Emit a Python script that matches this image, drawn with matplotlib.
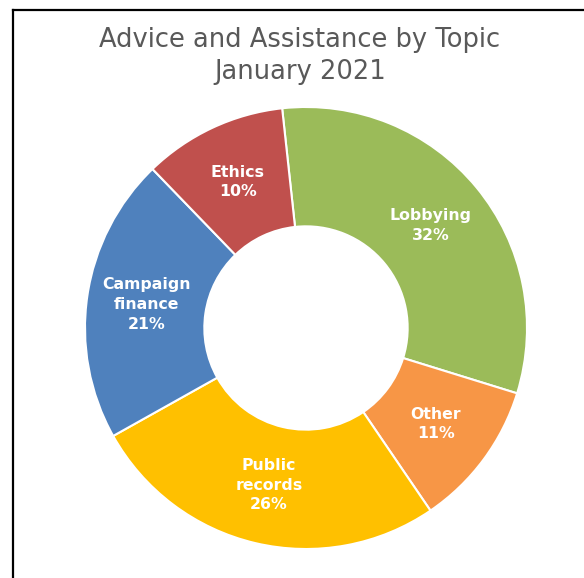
import matplotlib
matplotlib.use("Agg")
import matplotlib.pyplot as plt
from matplotlib.lines import Line2D

topics = ["Lobbying", "Other", "Public\nrecords", "Campaign\nfinance", "Ethics"]
shares = [31.5, 10.7, 26.4, 20.9, 10.5]
percents = [32, 11, 26, 21, 10]
colors = ["#9BBB59", "#F79646", "#FFC000", "#4F81BD", "#C0504D"]

W, H = 584, 578
fig = plt.figure(figsize=(W / 100, H / 100), dpi=100)

# frame lines (left and top only visible)
fig.add_artist(Line2D([13 / W, 13 / W], [0, 1 - 10 / H], color="black", lw=1.6,
                      transform=fig.transFigure))
fig.add_artist(Line2D([13 / W, 1], [1 - 10 / H, 1 - 10 / H], color="black", lw=1.6,
                      transform=fig.transFigure))

R = 221
cx, cy = 306, 328
ax = fig.add_axes([(cx - R) / W, (H - cy - R) / H, 2 * R / W, 2 * R / H])

labels = [f"{t}\n{p}%" for t, p in zip(topics, percents)]
wedges, texts = ax.pie(shares, colors=colors, startangle=96.2, counterclock=False,
                       radius=1, wedgeprops=dict(width=0.54, edgecolor="white", linewidth=1.5),
                       labels=labels, labeldistance=0.73)
for t in texts:
    t.set_ha("center")
    t.set_va("center")
    t.set_color("white")
    t.set_fontweight("bold")
    t.set_fontsize(11.3)
    t.set_family("DejaVu Sans")
    t.set_linespacing(1.38)
ax.set_xlim(-1, 1)
ax.set_ylim(-1, 1)
ax.set_aspect("equal")
ax.axis("off")

fig.text(300 / W, 1 - 56 / H, "Advice and Assistance by Topic\nJanuary 2021",
         ha="center", va="center", fontsize=18.5, color="#595959", linespacing=1.28)

fig.savefig("out.png", dpi=100)
